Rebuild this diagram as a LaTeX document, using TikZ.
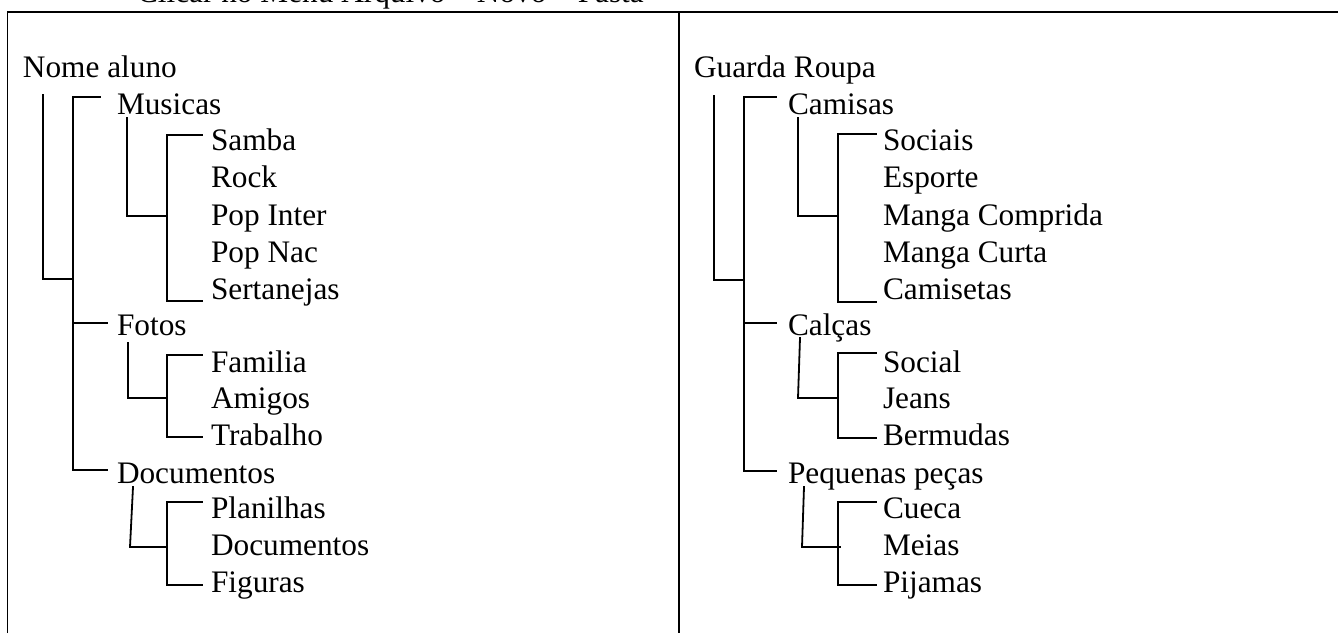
\documentclass[tikz,border=0pt]{standalone}
\usepackage{fontspec}
\setmainfont{Liberation Serif}
\begin{document}
\begin{tikzpicture}[x=1pt,y=-1pt,
  lbl/.style={anchor=base west, inner sep=0pt, outer sep=0pt, font=\fontsize{31.3}{37}\selectfont},
  ln/.style={draw=black, line width=1.8pt, line cap=rect}]
\useasboundingbox (0,0) rectangle (1338,633);
\clip (0,0) rectangle (1338,633);
\fill[white] (0,0) rectangle (1338,633);
% title (cut off at the top edge, as in the reference)
\node[lbl] (title) at (137,2) {Clicar no Menu Arquivo – Novo – Pasta};
% frame
\coordinate (tl) at (7.5,12);
\coordinate (bl) at (7.5,633);
\coordinate (tr) at (1338,12);
\coordinate (dt) at (679,12);
\coordinate (db) at (679,633);
\draw[ln,line cap=butt] (bl) -- (tl) -- (tr);
\draw[ln,line cap=butt] (dt) -- (db);

% ---------- left tree ----------
\node[lbl] (nome) at (23,77) {Nome aluno};
\node[lbl] (mus) at (117,114) {Musicas};
\node[lbl] (samba) at (211,150) {Samba};
\node[lbl] (rock) at (211,187) {Rock};
\node[lbl] (popi) at (211,225) {Pop Inter};
\node[lbl] (popn) at (211,262) {Pop Nac};
\node[lbl] (sert) at (211,299) {Sertanejas};
\node[lbl] (fotos) at (117,335) {Fotos};
\node[lbl] (fam) at (211,372) {Familia};
\node[lbl] (ami) at (211,408) {Amigos};
\node[lbl] (trab) at (211,445) {Trabalho};
\node[lbl] (docs) at (117,483) {Documentos};
\node[lbl] (plan) at (211,518) {Planilhas};
\node[lbl] (docs2) at (211,555) {Documentos};
\node[lbl] (fig) at (211,592) {Figuras};

\draw[ln] (43,95) -- (43,279) -- (73,279);
\draw[ln] (100,97) -- (73,97) -- (73,470) -- (107,470);
\draw[ln] (73,323) -- (107,323);
\draw[ln] (127,118) -- (127,216) -- (167,216);
\draw[ln] (202,135) -- (167,135) -- (167,301) -- (202,301);
\draw[ln] (128,343) -- (128,398) -- (167,398);
\draw[ln] (202,355) -- (167,355) -- (167,437) -- (202,437);
\draw[ln] (133,487) -- (130,547) -- (167,547);
\draw[ln] (202,502) -- (167,502) -- (167,585) -- (202,585);

% ---------- right tree ----------
\node[lbl] (guarda) at (694,77) {Guarda Roupa};
\node[lbl] (cam) at (788,114) {Camisas};
\node[lbl] (soc) at (883,150) {Sociais};
\node[lbl] (esp) at (883,187) {Esporte};
\node[lbl] (mcomp) at (883,225) {Manga Comprida};
\node[lbl] (mcurt) at (883,262) {Manga Curta};
\node[lbl] (camis) at (883,299) {Camisetas};
\node[lbl] (calc) at (788,335) {Calças};
\node[lbl] (social) at (883,372) {Social};
\node[lbl] (jeans) at (883,408) {Jeans};
\node[lbl] (berm) at (883,445) {Bermudas};
\node[lbl] (peq) at (788,483) {Pequenas peças};
\node[lbl] (cueca) at (883,518) {Cueca};
\node[lbl] (meias) at (883,555) {Meias};
\node[lbl] (pij) at (883,592) {Pijamas};

\draw[ln] (714,96) -- (714,280) -- (744,280);
\draw[ln] (776,97) -- (744,97) -- (744,471) -- (776,471);
\draw[ln] (744,323) -- (776,323);
\draw[ln] (798,118) -- (798,216) -- (838,216);
\draw[ln] (876,134) -- (838,134) -- (838,302) -- (876,302);
\draw[ln] (800,338) -- (798,398) -- (838,398);
\draw[ln] (876,353) -- (838,353) -- (838,438) -- (876,438);
\draw[ln] (804,487) -- (802,547) -- (840,547);
\draw[ln] (876,502) -- (838,502) -- (838,585) -- (876,585);
\end{tikzpicture}
\end{document}
